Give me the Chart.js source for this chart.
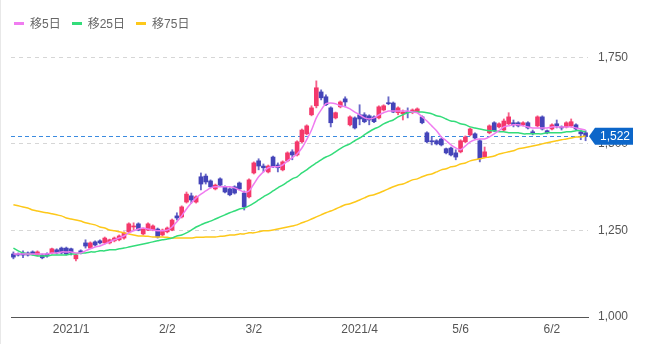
<!DOCTYPE html>
<html>
<head>
<meta charset="utf-8">
<script src="https://cdn.jsdelivr.net/npm/chart.js@4.4.1/dist/chart.umd.min.js"></script>
<style>
  html, body { margin: 0; padding: 0; background: #fff; }
  #wrap { position: relative; width: 672px; height: 344px; overflow: hidden; }
  #wrap::before { content: ''; position: absolute; left: 0; top: 0; bottom: 0; width: 1px; background: #e8e8e8; }
  canvas { position: absolute; left: 0; top: 0; }
  #legend {
    position: absolute; left: 14px; top: 16px; display: flex; gap: 11px;
    font: 12px "Liberation Sans", "Noto Sans CJK JP", sans-serif; color: #666;
  }
  .item { display: flex; align-items: center; height: 16px; line-height: 16px; white-space: nowrap; }
  .item i { display: inline-block; width: 10px; height: 3px; margin-right: 6px; margin-top: -1px; }
</style>
</head>
<body>
<div id="wrap">
  <canvas id="chart" width="672" height="344"></canvas>
  <div id="legend"></div>
</div>
<script>
// Trading days shown on the chart (Dec 2020 - Jun 2021)
const dates = [
  '12/15','12/16','12/17','12/18','12/21','12/22','12/23','12/24','12/25','12/28','12/29','12/30',
  '1/4','1/5','1/6','1/7','1/8','1/12','1/13','1/14','1/15','1/18','1/19','1/20','1/21','1/22','1/25','1/26','1/27','1/28','1/29',
  '2/1','2/2','2/3','2/4','2/5','2/8','2/9','2/10','2/12','2/15','2/16','2/17','2/18','2/19','2/22','2/24','2/25','2/26',
  '3/1','3/2','3/3','3/4','3/5','3/8','3/9','3/10','3/11','3/12','3/15','3/16','3/17','3/18','3/19','3/22','3/23','3/24','3/25','3/26','3/29','3/30','3/31',
  '4/1','4/2','4/5','4/6','4/7','4/8','4/9','4/12','4/13','4/14','4/15','4/16','4/19','4/20','4/21','4/22','4/23','4/26','4/27','4/28','4/30',
  '5/6','5/7','5/10','5/11','5/12','5/13','5/14','5/17','5/18','5/19','5/20','5/21','5/24','5/25','5/26','5/27','5/28','5/31',
  '6/1','6/2','6/3','6/4','6/7','6/8','6/9','6/10','6/11'
];

// Daily prices
const open = [
  1182,1182,1185,1185,1188,1179,1179,1182,1185,1194,1199,1199,
  1197,1168,1191,1214,1199,1217,1220,1214,1214,1220,1223,1228,1246,1260,1269,1240,1251,1251,1254,
  1237,1246,1251,1292,1289,1332,1350,1332,1405,1407,1393,1370,1399,1376,1370,1376,1387,1358,
  1347,1416,1451,1436,1419,1462,1439,1425,1451,1477,1468,1506,1529,1584,1610,1650,1636,1604,1575,1607,1630,1555,1575,
  1584,1584,1581,1578,1575,1598,1618,1618,1590,1587,1592,1590,1592,1578,1532,1509,1509,1514,1486,1488,1474,
  1477,1506,1526,1529,1509,1462,1532,1561,1549,1540,1558,1561,1561,1555,1561,1535,1552,1578,
  1538,1543,1558,1549,1549,1552,1555,1535,1532
];
const high = [
  1188,1185,1191,1188,1191,1191,1182,1185,1199,1197,1202,1202,
  1199,1182,1194,1223,1217,1220,1223,1231,1225,1231,1237,1246,1272,1272,1272,1257,1272,1266,1257,
  1254,1260,1283,1301,1321,1361,1358,1350,1416,1413,1396,1384,1402,1379,1373,1379,1390,1364,
  1399,1448,1457,1442,1439,1465,1445,1451,1477,1483,1509,1543,1555,1610,1682,1656,1642,1607,1592,1624,1636,1581,1578,
  1613,1590,1584,1581,1610,1613,1636,1621,1607,1598,1604,1601,1604,1581,1535,1520,1512,1517,1488,1491,1483,
  1512,1523,1546,1532,1512,1491,1555,1564,1561,1572,1590,1569,1564,1564,1564,1540,1581,1581,
  1540,1558,1569,1552,1564,1572,1558,1540,1538
];
const low = [
  1168,1176,1171,1176,1179,1176,1168,1173,1182,1182,1182,1179,
  1179,1162,1182,1199,1197,1205,1211,1211,1211,1217,1220,1225,1243,1251,1249,1237,1249,1249,1228,
  1234,1243,1249,1280,1286,1329,1329,1329,1367,1384,1373,1367,1379,1358,1350,1355,1367,1309,
  1344,1413,1425,1419,1416,1431,1419,1422,1448,1454,1465,1503,1526,1581,1604,1627,1610,1549,1572,1604,1607,1552,1543,
  1555,1561,1555,1561,1572,1595,1613,1590,1584,1569,1575,1587,1590,1558,1503,1497,1497,1494,1471,1465,1454,
  1474,1503,1523,1514,1448,1460,1529,1535,1546,1538,1555,1549,1549,1552,1543,1526,1549,1540,
  1529,1540,1546,1540,1546,1549,1540,1512,1509
];
const close = [
  1173,1179,1179,1179,1182,1188,1171,1176,1197,1185,1185,1182,
  1185,1179,1185,1205,1214,1208,1214,1228,1223,1228,1234,1243,1269,1263,1251,1254,1269,1263,1231,
  1251,1257,1280,1286,1318,1355,1338,1347,1384,1390,1376,1381,1381,1361,1353,1358,1370,1318,
  1396,1445,1436,1431,1436,1434,1431,1448,1474,1468,1506,1540,1552,1604,1662,1633,1613,1561,1590,1621,1621,1578,1546,
  1572,1564,1569,1564,1607,1610,1616,1592,1604,1592,1590,1598,1601,1561,1506,1506,1500,1497,1474,1468,1462,
  1509,1520,1543,1517,1457,1477,1552,1538,1558,1566,1578,1555,1552,1561,1546,1532,1578,1543,
  1532,1555,1552,1546,1561,1564,1543,1529,1522
];

// Moving averages
const ma5 = [
  1182,1182,1182,1182,1182,1182,1182,1182,1185,1185,1188,1188,
  1188,1185,1185,1191,1197,1202,1205,1211,1217,1223,1228,1234,1243,1249,1254,1257,1254,1251,1249,
  1249,1251,1260,1275,1292,1312,1329,1344,1355,1364,1373,1376,1376,1376,1376,1373,1367,1361,
  1364,1384,1405,1419,1431,1434,1434,1439,1451,1460,1471,1488,1512,1540,1575,1598,1616,1618,1616,1610,1607,1601,1592,
  1584,1575,1572,1575,1584,1590,1595,1595,1595,1595,1595,1592,1590,1578,1566,1552,1538,1520,1509,1497,1488,
  1483,1494,1506,1512,1514,1514,1520,1529,1538,1549,1552,1555,1555,1552,1549,1546,1546,1546,
  1546,1549,1549,1549,1549,1549,1546,1543,1540
];
const ma25 = [
  1199,1191,1185,1182,1179,1176,1176,1176,1179,1179,1179,1179,
  1182,1182,1185,1185,1188,1188,1191,1191,1194,1194,1197,1199,1202,1205,1208,1211,1214,1217,1220,
  1223,1225,1228,1234,1237,1243,1251,1260,1266,1272,1277,1283,1289,1295,1301,1306,1312,1315,
  1321,1329,1338,1347,1355,1364,1373,1381,1390,1399,1405,1416,1425,1436,1445,1454,1462,1468,1477,1486,1494,1500,1509,
  1517,1526,1535,1543,1549,1558,1564,1569,1578,1584,1590,1592,1592,1592,1590,1587,1581,1578,1572,1566,1564,
  1558,1555,1549,1546,1543,1540,1538,1538,1535,1535,1532,1532,1532,1529,1529,1529,1529,1529,
  1532,1532,1532,1532,1535,1535,1538,1538,1535
];
const ma75 = [
  1324,1321,1318,1315,1309,1306,1303,1301,1298,1295,1292,1286,
  1283,1280,1277,1272,1269,1266,1260,1257,1251,1249,1246,1243,1240,1237,1234,1234,1233,1231,1231,
  1231,1230,1228,1228,1228,1228,1228,1230,1230,1231,1231,1231,1233,1234,1237,1237,1240,1240,
  1243,1243,1246,1249,1249,1251,1254,1257,1260,1263,1266,1272,1277,1283,1289,1295,1301,1306,1312,1318,1324,1327,1332,
  1338,1344,1350,1353,1358,1364,1370,1376,1381,1384,1390,1396,1399,1405,1410,1413,1419,1425,1428,1434,1436,
  1442,1445,1451,1454,1457,1460,1462,1465,1471,1474,1477,1480,1486,1488,1491,1494,1497,1500,
  1503,1506,1509,1512,1514,1517,1520,1520,1523
];

// Axis labels
const tickMarks = ['1/4', '2/2', '3/2', '4/1', '5/6', '6/2'];
const tickTexts = ['2021/1', '2/2', '3/2', '2021/4', '5/6', '6/2'];
const priceTicks = [1000, 1250, 1500, 1750];
const seriesNames = ['移5日', '移25日', '移75日'];

const UP = '#f4386b', DOWN = '#4444b9';
const UP_WICK = 'rgba(244,56,107,0.8)', DOWN_WICK = 'rgba(68,68,185,0.8)';
const lineColors = ['#f07cf0', '#33dc7a', '#fdc81a'];
const FONT = '"Liberation Sans", Arial, sans-serif';

const isUp = i => close[i] >= open[i];
const fmt = v => Number(v).toLocaleString('en-US');
const lastClose = close[close.length - 1];

// Dashed last-price line under the candles and the price tag on the axis
const priceTag = {
  id: 'priceTag',
  beforeDatasetsDraw(chart) {
    const { ctx, chartArea } = chart;
    const y = chart.scales.y.getPixelForValue(lastClose);
    ctx.save();
    ctx.strokeStyle = '#3b8be0';
    ctx.lineWidth = 1;
    ctx.setLineDash([4, 3]);
    ctx.beginPath();
    ctx.moveTo(chartArea.left, Math.round(y) + 0.5);
    ctx.lineTo(chartArea.right, Math.round(y) + 0.5);
    ctx.stroke();
    ctx.restore();
  },
  afterDraw(chart) {
    const { ctx, chartArea } = chart;
    const y = chart.scales.y.getPixelForValue(lastClose);
    const x0 = chartArea.right + 1, x1 = x0 + 6, x2 = x0 + 44, h = 8.5;
    ctx.save();
    ctx.fillStyle = '#0c66c9';
    ctx.beginPath();
    ctx.moveTo(x0, y);
    ctx.lineTo(x1, y - h);
    ctx.lineTo(x2, y - h);
    ctx.lineTo(x2, y + h);
    ctx.lineTo(x1, y + h);
    ctx.closePath();
    ctx.fill();
    ctx.fillStyle = '#fff';
    ctx.font = '12px ' + FONT;
    ctx.textAlign = 'center';
    ctx.textBaseline = 'middle';
    ctx.fillText(fmt(lastClose), (x1 + x2) / 2 + 1, y + 0.5);
    ctx.restore();
  }
};

const lineSets = [ma5, ma25, ma75].map((d, k) => ({
  type: 'line',
  label: seriesNames[k],
  data: d,
  borderColor: lineColors[k],
  backgroundColor: lineColors[k],
  borderWidth: 1.5,
  pointRadius: 0,
  tension: 0.25,
  order: 0
}));

new Chart(document.getElementById('chart'), {
  data: {
    labels: dates,
    datasets: [
      ...lineSets,
      {
        type: 'bar',
        label: 'wick',
        data: dates.map((_, i) => [low[i], high[i]]),
        backgroundColor: c => isUp(c.dataIndex) ? UP_WICK : DOWN_WICK,
        barThickness: 1.2,
        grouped: false,
        order: 2
      },
      {
        type: 'bar',
        label: 'body',
        data: dates.map((_, i) => [open[i], close[i]]),
        backgroundColor: c => isUp(c.dataIndex) ? UP : DOWN,
        barThickness: 4,
        minBarLength: 1,
        grouped: false,
        order: 1
      }
    ]
  },
  options: {
    responsive: false,
    devicePixelRatio: 1,
    animation: false,
    layout: { padding: { left: 11, top: 40, right: 0, bottom: 0 } },
    plugins: { legend: { display: false }, tooltip: { enabled: false } },
    scales: {
      x: {
        type: 'category',
        offset: true,
        grid: { display: false, drawTicks: false },
        border: { display: true, color: '#555', width: 1 },
        afterBuildTicks: axis => { axis.ticks = tickMarks.map(m => ({ value: dates.indexOf(m) })); },
        afterFit: axis => { axis.height = 27; },
        ticks: {
          autoSkip: false, maxRotation: 0, padding: 5,
          color: '#555', font: { size: 12, family: FONT },
          callback: v => tickTexts[tickMarks.indexOf(dates[v])]
        }
      },
      y: {
        type: 'linear',
        position: 'right',
        min: 1000, max: 1800,
        grid: {
          drawTicks: false,
          color: c => (c.tick && c.tick.value === 1000) ? 'rgba(0,0,0,0)' : '#d6d6d6',
          lineWidth: 1
        },
        border: { display: false, dash: [4, 4] },
        afterBuildTicks: axis => { axis.ticks = priceTicks.map(v => ({ value: v })); },
        afterFit: axis => { axis.width = 84; },
        ticks: {
          autoSkip: false, padding: 10,
          color: '#555', font: { size: 12, family: FONT },
          callback: v => fmt(v)
        }
      }
    }
  },
  plugins: [priceTag]
});

// Legend for the moving-average lines
const legend = document.getElementById('legend');
lineSets.forEach(ds => {
  const item = document.createElement('div');
  item.className = 'item';
  const swatch = document.createElement('i');
  swatch.style.background = ds.borderColor;
  const text = document.createElement('span');
  text.textContent = ds.label;
  item.appendChild(swatch);
  item.appendChild(text);
  legend.appendChild(item);
});
</script>
</body>
</html>
